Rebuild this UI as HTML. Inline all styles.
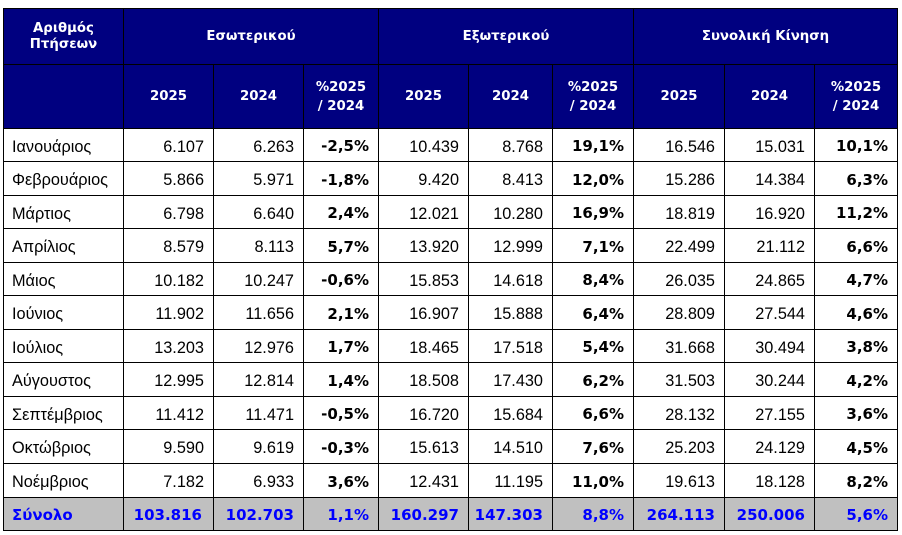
<!DOCTYPE html>
<html><head><meta charset="utf-8">
<style>
html,body{margin:0;padding:0;background:#fff;width:902px;height:535px;overflow:hidden;}
.g{position:absolute;left:3px;top:8px;display:grid;
grid-template-columns:120px 90px 90px 75px 90px 84px 81px 91px 90px 83px;
grid-template-rows:56px 64px 33px 34px 33px 34px 33px 34px 33px 34px 33px 34px 34px 33px;
border-left:1px solid #000;border-top:1px solid #000;}
.g>div{box-sizing:border-box;border-right:1px solid #000;border-bottom:1px solid #000;display:flex;align-items:center;white-space:nowrap;}
.h{background:#000080;color:#fff;font-family:"DejaVu Sans",sans-serif;font-weight:bold;font-size:13.3px;justify-content:center;text-align:center;}
.h1{line-height:16px;}
.h2{line-height:19px;}
.m{font-family:"Liberation Sans",sans-serif;font-size:16.3px;padding-left:8px;padding-top:4px;color:#000;}
.n{font-family:"Liberation Sans",sans-serif;font-size:16.3px;justify-content:flex-end;padding-right:9px;padding-top:4px;color:#000;}
.p{font-family:"DejaVu Sans",sans-serif;font-weight:bold;font-size:15px;justify-content:flex-end;padding-right:9px;padding-top:2px;color:#000;}
.t{background:#c0c0c0;color:#0000ff;font-family:"DejaVu Sans",sans-serif;font-weight:bold;font-size:15px;justify-content:flex-end;padding-right:9px;padding-top:2px;}
.tl{justify-content:flex-start;padding-left:8px;padding-right:0;}
.t1{padding-right:11px;}
.s3{grid-column:span 3;}
</style></head><body>
<div class="g">
<div class="h h1">Αριθμός<br>Πτήσεων</div>
<div class="h s3">Εσωτερικού</div>
<div class="h s3">Εξωτερικού</div>
<div class="h s3">Συνολική Κίνηση</div>

<div class="h"></div>
<div class="h">2025</div><div class="h">2024</div><div class="h h2">%2025<br>/ 2024</div>
<div class="h">2025</div><div class="h">2024</div><div class="h h2">%2025<br>/ 2024</div>
<div class="h">2025</div><div class="h">2024</div><div class="h h2">%2025<br>/ 2024</div>

<div class="m">Ιανουάριος</div><div class="n">6.107</div><div class="n">6.263</div><div class="p">-2,5%</div><div class="n">10.439</div><div class="n">8.768</div><div class="p">19,1%</div><div class="n">16.546</div><div class="n">15.031</div><div class="p">10,1%</div>
<div class="m">Φεβρουάριος</div><div class="n">5.866</div><div class="n">5.971</div><div class="p">-1,8%</div><div class="n">9.420</div><div class="n">8.413</div><div class="p">12,0%</div><div class="n">15.286</div><div class="n">14.384</div><div class="p">6,3%</div>
<div class="m">Μάρτιος</div><div class="n">6.798</div><div class="n">6.640</div><div class="p">2,4%</div><div class="n">12.021</div><div class="n">10.280</div><div class="p">16,9%</div><div class="n">18.819</div><div class="n">16.920</div><div class="p">11,2%</div>
<div class="m">Απρίλιος</div><div class="n">8.579</div><div class="n">8.113</div><div class="p">5,7%</div><div class="n">13.920</div><div class="n">12.999</div><div class="p">7,1%</div><div class="n">22.499</div><div class="n">21.112</div><div class="p">6,6%</div>
<div class="m">Μάιος</div><div class="n">10.182</div><div class="n">10.247</div><div class="p">-0,6%</div><div class="n">15.853</div><div class="n">14.618</div><div class="p">8,4%</div><div class="n">26.035</div><div class="n">24.865</div><div class="p">4,7%</div>
<div class="m">Ιούνιος</div><div class="n">11.902</div><div class="n">11.656</div><div class="p">2,1%</div><div class="n">16.907</div><div class="n">15.888</div><div class="p">6,4%</div><div class="n">28.809</div><div class="n">27.544</div><div class="p">4,6%</div>
<div class="m">Ιούλιος</div><div class="n">13.203</div><div class="n">12.976</div><div class="p">1,7%</div><div class="n">18.465</div><div class="n">17.518</div><div class="p">5,4%</div><div class="n">31.668</div><div class="n">30.494</div><div class="p">3,8%</div>
<div class="m">Αύγουστος</div><div class="n">12.995</div><div class="n">12.814</div><div class="p">1,4%</div><div class="n">18.508</div><div class="n">17.430</div><div class="p">6,2%</div><div class="n">31.503</div><div class="n">30.244</div><div class="p">4,2%</div>
<div class="m">Σεπτέμβριος</div><div class="n">11.412</div><div class="n">11.471</div><div class="p">-0,5%</div><div class="n">16.720</div><div class="n">15.684</div><div class="p">6,6%</div><div class="n">28.132</div><div class="n">27.155</div><div class="p">3,6%</div>
<div class="m">Οκτώβριος</div><div class="n">9.590</div><div class="n">9.619</div><div class="p">-0,3%</div><div class="n">15.613</div><div class="n">14.510</div><div class="p">7,6%</div><div class="n">25.203</div><div class="n">24.129</div><div class="p">4,5%</div>
<div class="m">Νοέμβριος</div><div class="n">7.182</div><div class="n">6.933</div><div class="p">3,6%</div><div class="n">12.431</div><div class="n">11.195</div><div class="p">11,0%</div><div class="n">19.613</div><div class="n">18.128</div><div class="p">8,2%</div>
<div class="t tl">Σύνολο</div><div class="t t1">103.816</div><div class="t">102.703</div><div class="t">1,1%</div><div class="t">160.297</div><div class="t">147.303</div><div class="t">8,8%</div><div class="t">264.113</div><div class="t">250.006</div><div class="t">5,6%</div>
</div>
</body></html>
